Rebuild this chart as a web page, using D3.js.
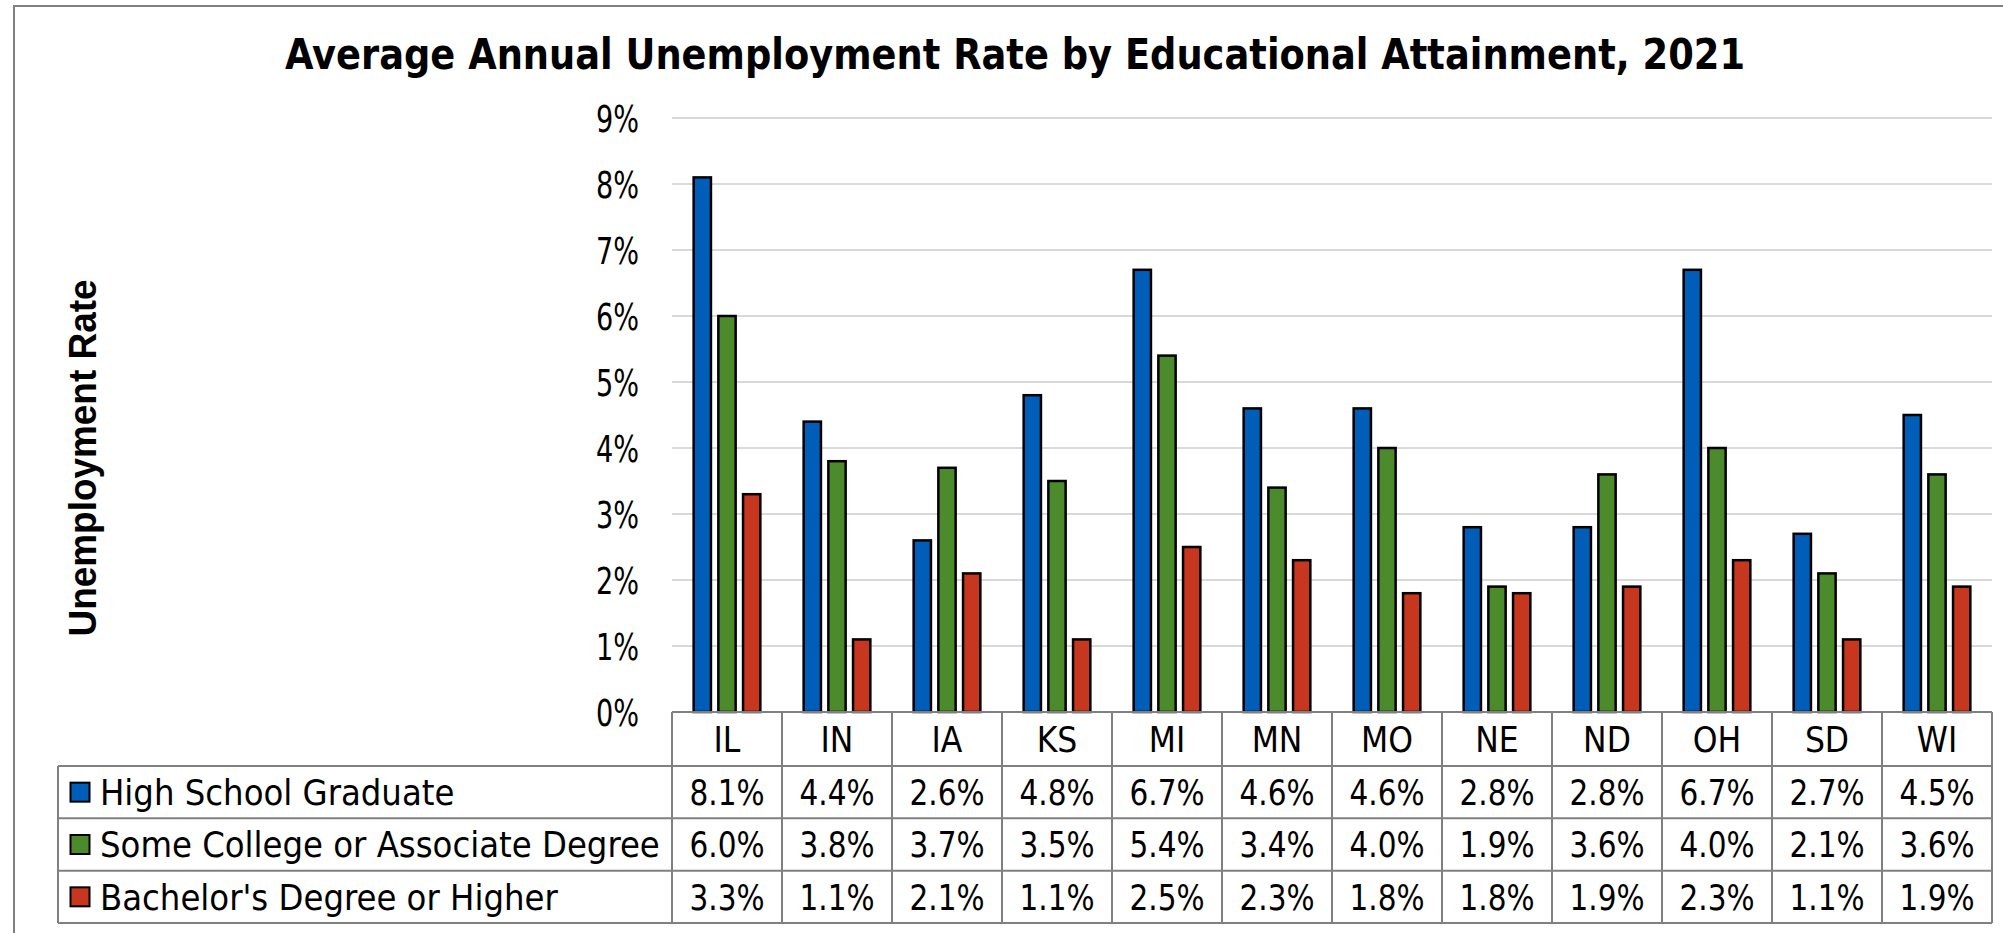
<!DOCTYPE html>
<html>
<head>
<meta charset="utf-8">
<script src="https://cdn.jsdelivr.net/npm/d3@7"></script>
<style>
  html, body { margin: 0; padding: 0; background: #fff; }
  svg { display: block; }
  text { font-family: "DejaVu Sans Condensed", "DejaVu Sans", sans-serif; font-stretch: condensed; fill: #000; }
</style>
</head>
<body>
<svg id="chart" width="2003" height="933"></svg>
<script>
// Unemployment rate (%) by state and educational attainment, 2021
const states = ["IL", "IN", "IA", "KS", "MI", "MN", "MO", "NE", "ND", "OH", "SD", "WI"];
const seriesNames = ["High School Graduate", "Some College or Associate Degree", "Bachelor's Degree or Higher"];
const highSchool = [8.1, 4.4, 2.6, 4.8, 6.7, 4.6, 4.6, 2.8, 2.8, 6.7, 2.7, 4.5];
const someCollege = [6.0, 3.8, 3.7, 3.5, 5.4, 3.4, 4.0, 1.9, 3.6, 4.0, 2.1, 3.6];
const bachelors = [3.3, 1.1, 2.1, 1.1, 2.5, 2.3, 1.8, 1.8, 1.9, 2.3, 1.1, 1.9];
const seriesColors = ["#005EB8", "#4C8B2B", "#C7361F"];
const yTickValues = [0, 1, 2, 3, 4, 5, 6, 7, 8, 9];
const chartTitle = "Average Annual Unemployment Rate by Educational Attainment, 2021";
const yAxisTitle = "Unemployment Rate";

const seriesValues = [highSchool, someCollege, bachelors];
const series = seriesNames.map((name, i) => ({ name, color: seriesColors[i], values: seriesValues[i] }));

const svg = d3.select("#chart");
const W = 2003, H = 933;

// layout
const plot = { left: 672, right: 1992, top: 118, bottom: 712 };
const legendLeft = 58;
const headerBottom = 766;
const tableBottom = 923;
const gridColor = "#D9D9D9";
const lineColor = "#808080";

svg.append("rect").attr("x", 0).attr("y", 0).attr("width", W).attr("height", H).attr("fill", "#fff");

// outer chart frame
svg.append("rect")
  .attr("x", 14).attr("y", 6)
  .attr("width", W + 20).attr("height", H + 20)
  .attr("fill", "none").attr("stroke", lineColor).attr("stroke-width", 2);

// scales
const x = d3.scaleBand().domain(states).range([plot.left, plot.right]);
const y = d3.scaleLinear().domain([0, 9]).range([plot.bottom, plot.top]);
const x1 = d3.scaleBand().domain(seriesNames).range([-37.05, 37.05]).paddingInner(0.3).paddingOuter(0.15);
const rowY = d3.scaleBand().domain(seriesNames).range([headerBottom, tableBottom]);

// title
svg.append("text")
  .attr("x", 1015).attr("y", 69)
  .attr("text-anchor", "middle")
  .attr("font-size", 43).attr("font-weight", "bold")
  .attr("textLength", 1460).attr("lengthAdjust", "spacingAndGlyphs")
  .text(chartTitle);

// y axis title
svg.append("text")
  .attr("transform", "translate(96,458) rotate(-90)")
  .attr("text-anchor", "middle")
  .style("font-family", "'Liberation Sans', Arial, sans-serif")
  .style("font-stretch", "normal")
  .attr("font-size", 38).attr("font-weight", "bold")
  .attr("textLength", 357).attr("lengthAdjust", "spacingAndGlyphs")
  .text(yAxisTitle);

// gridlines
svg.append("g")
  .selectAll("line")
  .data(yTickValues.filter(d => d > 0))
  .join("line")
  .attr("x1", plot.left).attr("x2", plot.right)
  .attr("y1", d => y(d)).attr("y2", d => y(d))
  .attr("stroke", gridColor).attr("stroke-width", 2);

// y axis tick labels
const yAxis = d3.axisLeft(y).tickValues(yTickValues).tickFormat(d => d + "%").tickSize(0).tickPadding(0);
const yAxisG = svg.append("g").attr("transform", "translate(639,0)").call(yAxis);
yAxisG.select(".domain").remove();
yAxisG.selectAll("text")
  .attr("font-size", 37)
  .attr("textLength", 43).attr("lengthAdjust", "spacingAndGlyphs")
  .style("font-family", "\"DejaVu Sans Condensed\", \"DejaVu Sans\", sans-serif")
  .attr("dy", "0.36em");

// bars
const groups = svg.append("g")
  .selectAll("g")
  .data(series)
  .join("g")
  .attr("fill", d => d.color);

groups.selectAll("rect")
  .data(s => s.values.map((v, i) => ({ state: states[i], value: v, name: s.name })))
  .join("rect")
  .attr("x", d => x(d.state) + x.bandwidth() / 2 + x1(d.name))
  .attr("width", x1.bandwidth())
  .attr("y", d => y(d.value))
  .attr("height", d => y(0) - y(d.value))
  .attr("stroke", "#000").attr("stroke-width", 2.5);

// data table: grid lines
const tableG = svg.append("g").attr("stroke", lineColor).attr("stroke-width", 2).attr("fill", "none");
tableG.append("line").attr("x1", plot.left).attr("x2", plot.right).attr("y1", plot.bottom).attr("y2", plot.bottom);
[headerBottom, ...seriesNames.map(n => rowY(n) + rowY.bandwidth())].forEach(yy => {
  tableG.append("line").attr("x1", legendLeft).attr("x2", plot.right).attr("y1", yy).attr("y2", yy);
});
tableG.append("line").attr("x1", legendLeft).attr("x2", legendLeft).attr("y1", headerBottom).attr("y2", tableBottom);
tableG.selectAll("line.col")
  .data([...states.map(s => x(s)), plot.right])
  .join("line")
  .attr("class", "col")
  .attr("x1", d => d).attr("x2", d => d)
  .attr("y1", plot.bottom).attr("y2", tableBottom);

// category labels
svg.append("g")
  .selectAll("text")
  .data(states)
  .join("text")
  .attr("x", d => x(d) + x.bandwidth() / 2)
  .attr("y", (plot.bottom + headerBottom) / 2)
  .attr("dy", "0.36em")
  .attr("text-anchor", "middle")
  .attr("font-size", 35)
  .text(d => d);

// legend keys and series names
const legendRows = svg.append("g")
  .selectAll("g")
  .data(series)
  .join("g")
  .attr("transform", d => `translate(0,${rowY(d.name) + rowY.bandwidth() / 2})`);

legendRows.append("rect")
  .attr("x", 70.5).attr("y", -9.5)
  .attr("width", 19).attr("height", 19)
  .attr("fill", d => d.color)
  .attr("stroke", "#000").attr("stroke-width", 2);

legendRows.append("text")
  .attr("x", 100).attr("dy", "0.36em")
  .attr("font-size", 36)
  .text(d => d.name);

// table values
const fmt = d3.format(".1f");
legendRows.selectAll("text.val")
  .data(d => d.values.map((v, i) => ({ state: states[i], value: v })))
  .join("text")
  .attr("class", "val")
  .attr("x", d => x(d.state) + x.bandwidth() / 2)
  .attr("dy", "0.36em")
  .attr("text-anchor", "middle")
  .attr("font-size", 36)
  .attr("textLength", 75).attr("lengthAdjust", "spacingAndGlyphs")
  .text(d => fmt(d.value) + "%");
</script>
</body>
</html>
